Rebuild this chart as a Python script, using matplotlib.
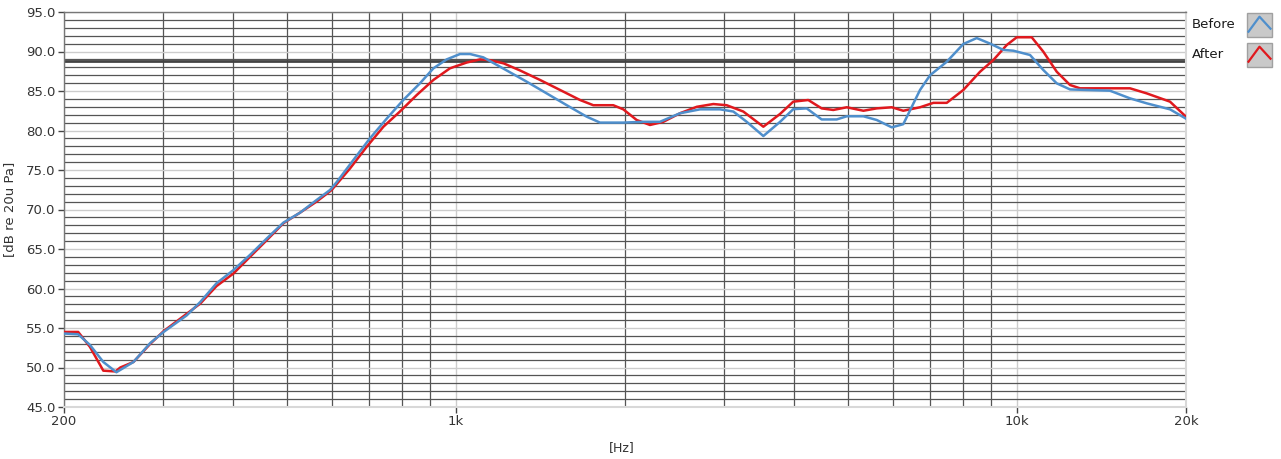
import matplotlib
matplotlib.use("Agg")
import matplotlib.pyplot as plt
from matplotlib.ticker import FixedLocator, MultipleLocator, FixedFormatter, NullFormatter
from matplotlib.patches import Rectangle
from matplotlib.lines import Line2D

# ---------------- data ----------------
before_freq = [200, 212, 222.5, 235, 248, 266, 285, 301, 331, 350, 374, 401, 429, 460, 492,
               527, 564, 596, 613, 656, 702, 752, 805, 862, 911, 962, 1016, 1059, 1118, 1197,
               1336, 1450, 1575, 1709, 1805, 1986, 2156, 2308, 2506, 2722, 2954, 3120, 3296,
               3529, 3780, 3990, 4216, 4483, 4768, 4970, 5321, 5620, 5978, 6267, 6713, 6996,
               7491, 8019, 8472, 8948, 9450, 9847, 10544, 11134, 11765, 12426, 13305, 14636,
               15894, 17020, 18730, 20000]
before_db = [54.3, 54.2, 52.85, 50.7, 49.4, 50.7, 53.1, 54.5, 56.6, 58.3, 60.66, 62.34, 64.24,
             66.35, 68.33, 69.6, 71.2, 72.47, 73.5, 76.27, 79.0, 81.5, 83.86, 85.97, 87.87,
             89.0, 89.68, 89.68, 89.26, 88.08, 86.18, 84.7, 83.2, 81.75, 81.0, 81.0, 81.1,
             81.1, 82.18, 82.68, 82.68, 82.4, 81.1, 79.3, 81.1, 82.7, 82.8, 81.4, 81.4, 81.8,
             81.8, 81.33, 80.4, 80.8, 85.13, 87.0, 88.7, 90.95, 91.7, 91.0, 90.2, 90.1, 89.56,
             87.66, 85.97, 85.2, 85.13, 85.04, 84.07, 83.44, 82.68, 81.5]

after_freq = [200, 212, 222.5, 235, 247, 252, 266, 285, 301, 331, 350, 374, 401, 429, 460, 492,
              527, 564, 600, 647, 693, 742, 794, 851, 911, 975, 1044, 1103, 1149, 1215, 1300,
              1411, 1532, 1663, 1756, 1906, 1986, 2098, 2216, 2341, 2506, 2685, 2874, 3036,
              3250, 3529, 3780, 3990, 4243, 4483, 4702, 4970, 5321, 5620, 5978, 6267, 6713,
              7091, 7491, 8019, 8589, 9070, 9582, 9985, 10617, 11134, 11765, 12426, 12946,
              14054, 15894, 17020, 18730, 20000]
after_db = [54.5, 54.5, 52.6, 49.6, 49.5, 50.0, 50.7, 53.0, 54.6, 56.8, 58.1, 60.3, 61.9, 64.0,
            66.14, 68.25, 69.6, 71.0, 72.47, 75.2, 77.95, 80.48, 82.4, 84.5, 86.4, 87.87, 88.6,
            89.0, 88.9, 88.5, 87.6, 86.4, 85.13, 83.86, 83.2, 83.2, 82.68, 81.33, 80.7, 81.1,
            82.18, 83.0, 83.35, 83.2, 82.4, 80.48, 82.1, 83.65, 83.86, 82.8, 82.6, 82.94, 82.5,
            82.8, 82.94, 82.5, 82.94, 83.5, 83.5, 85.13, 87.44, 88.92, 90.82, 91.8, 91.8, 89.98,
            87.44, 85.76, 85.34, 85.34, 85.34, 84.7, 83.65, 81.75]

x_major = [200, 1000, 10000, 20000]
x_major_labels = ["200", "1k", "10k", "20k"]
x_minor = [300, 400, 500, 600, 700, 800, 900,
           2000, 3000, 4000, 5000, 6000, 7000, 8000, 9000]
y_major = [45, 50, 55, 60, 65, 70, 75, 80, 85, 90, 95]
ref_level = 88.85
series_names = ["Before", "After"]

# ---------------- figure ----------------
W, H = 1281, 459
fig = plt.figure(figsize=(W / 100, H / 100), dpi=100)
fig.patch.set_facecolor("white")
ax = fig.add_axes([64 / W, 1 - 407 / H, (1186 - 64) / W, (407 - 12) / H])

BLUE = "#4f8fcc"
RED = "#e0191e"
DARK = "#555555"
LIGHT = "#cccccc"

ax.set_xscale("log")
ax.set_xlim(200, 20000)
ax.set_ylim(45, 95)

ax.xaxis.set_major_locator(FixedLocator(x_major))
ax.xaxis.set_major_formatter(FixedFormatter(x_major_labels))
ax.xaxis.set_minor_locator(FixedLocator(x_minor))
ax.xaxis.set_minor_formatter(NullFormatter())
ax.yaxis.set_major_locator(FixedLocator(y_major))
ax.yaxis.set_major_formatter(matplotlib.ticker.FormatStrFormatter("%.1f"))
ax.yaxis.set_minor_locator(MultipleLocator(1))

ax.set_axisbelow(True)
ax.grid(which="major", color=LIGHT, linewidth=1.0)
ax.grid(which="minor", color=DARK, linewidth=0.9)
ax.axhline(ref_level, color="#444444", linewidth=2.0, zorder=1.5)

ax.tick_params(which="minor", length=0)
ax.tick_params(which="major", length=4, width=1, color="#444444",
               labelsize=9.5, labelcolor="#333333", pad=2)

for s in ["left", "top"]:
    ax.spines[s].set_color("#777777")
    ax.spines[s].set_linewidth(1)
for s in ["bottom", "right"]:
    ax.spines[s].set_color("#d8d8d8")
    ax.spines[s].set_linewidth(1.5)

ax.plot(after_freq, after_db, color=RED, linewidth=1.8, zorder=3)
ax.plot(before_freq, before_db, color=BLUE, linewidth=1.8, zorder=4)

ax.set_ylabel("[dB re 20u Pa]", fontsize=9.5, color="#333333", labelpad=7)
fig.text(622 / W, 1 - 441 / H, "[Hz]", fontsize=9, color="#333333",
         ha="center", va="top")

# ---------------- legend (drawn in pixel coordinates) ----------------
ov = fig.add_axes([0, 0, 1, 1])
ov.set_xlim(0, W)
ov.set_ylim(H, 0)
ov.axis("off")
ov.patch.set_alpha(0)

for i, (name, col) in enumerate(zip(series_names, [BLUE, RED])):
    y0 = 12.7 + i * 30
    ov.text(1192, y0 + 11.5, name, fontsize=9.5, color="#1a1a1a", va="center", ha="left")
    ov.add_patch(Rectangle((1246.5, y0), 25, 24, facecolor="#c9c9c9",
                           edgecolor="#a0a0a0", linewidth=1))
    ov.add_line(Line2D([1248.5, 1259.5, 1270.5], [y0 + 19, y0 + 4, y0 + 16],
                       color=col, linewidth=1.6))

fig.savefig("out.png", dpi=100)
